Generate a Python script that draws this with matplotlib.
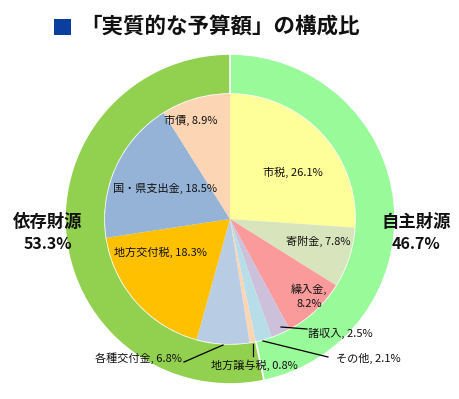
import matplotlib
matplotlib.use("Agg")
import matplotlib.pyplot as plt
from matplotlib.patches import Rectangle

plt.rcParams['font.family'] = ['Noto Sans CJK JP', 'DejaVu Sans']

# ---- data ----
title = "「実質的な予算額」の構成比"
inner_labels = ["市税", "寄附金", "繰入金", "諸収入", "その他",
                "地方譲与税", "各種交付金", "地方交付税", "国・県支出金", "市債"]
inner_values = [26.1, 7.8, 8.2, 2.5, 2.1, 0.8, 6.8, 18.3, 18.5, 8.9]
inner_colors = ["#FFFF99", "#D8E4BC", "#FA9A9A", "#CCC0DA", "#B7DEE8",
                "#FCD5B4", "#B8CCE4", "#FFC000", "#95B3D7", "#FCD5B4"]
outer_labels = ["自主財源", "依存財源"]
outer_values = [46.7, 53.3]
outer_colors = ["#99FA99", "#92D050"]

W, H = 460, 399
fig = plt.figure(figsize=(W / 100, H / 100), dpi=100)
ax = fig.add_axes([0, 0, 1, 1])

def Y(y):
    return H - y

cx, cy = 230, Y(219)
R_out, R_in = 165, 125

ax.pie(outer_values, colors=outer_colors, startangle=90, counterclock=False,
       center=(cx, cy), radius=R_out,
       wedgeprops=dict(width=R_out - R_in, edgecolor='white', linewidth=1.2),
       frame=True)
ax.pie(inner_values, colors=inner_colors, startangle=90, counterclock=False,
       center=(cx, cy), radius=R_in, wedgeprops=dict(linewidth=0),
       frame=True)
ax.set_xlim(0, W)
ax.set_ylim(0, H)
ax.set_aspect('equal')
ax.axis('off')

fs = 8
# inside labels: (x, y) pixel positions
inside_pos = {
    "市税": (293, 172, False),
    "寄附金": (318, 241, False),
    "繰入金": (309, 296, True),
    "国・県支出金": (165, 188, False),
    "市債": (191, 120, False),
    "地方交付税": (160, 252, False),
}
for lab, val in zip(inner_labels, inner_values):
    if lab in inside_pos:
        x, y, two = inside_pos[lab]
        txt = f"{lab},\n{val}%" if two else f"{lab}, {val}%"
        ax.text(x, Y(y), txt, ha='center', va='center', fontsize=fs,
                color='#111111', linespacing=1.5)

# outside labels with leader lines: text pos, alignment, line start, line end
outside = {
    "諸収入": ((308, 333), 'left', (281, 327), (307, 329)),
    "その他": ((336, 358), 'left', (263, 341), (328, 357)),
    "地方譲与税": ((254, 365), 'center', (253, 344), (253, 356)),
    "各種交付金": ((182, 358), 'right', (223, 345), (184, 362)),
}
for lab, val in zip(inner_labels, inner_values):
    if lab in outside:
        (tx, ty), ha, p0, p1 = outside[lab]
        ax.plot([p0[0], p1[0]], [Y(p0[1]), Y(p1[1])], color='black', lw=0.9)
        ax.text(tx, Y(ty), f"{lab}, {val}%", ha=ha, va='center', fontsize=fs,
                color='#111111')

# outer ring labels
outer_pos = {"自主財源": (416, 222), "依存財源": (48, 222)}
for lab, val in zip(outer_labels, outer_values):
    x, y = outer_pos[lab]
    ax.text(x, Y(y), lab, ha='center', va='center', fontsize=12.5,
            fontweight='bold', color='#111111')
    ax.text(x, Y(y + 22), f"{val}%", ha='center', va='center', fontsize=11.5,
            fontweight='bold', color='#111111')

# title
ax.add_patch(Rectangle((54, Y(35)), 17, 16, color='#0A3FA0', lw=0))
ax.text(80, Y(27), title, ha='left', va='center', fontsize=15.5,
        fontweight='bold', color='#111111')

fig.savefig("out.png", dpi=100)
